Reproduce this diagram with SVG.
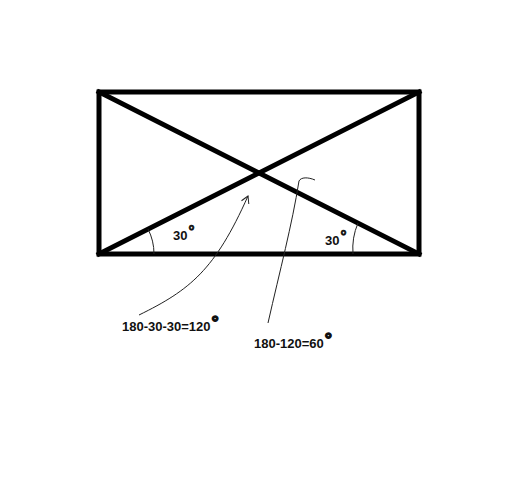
<svg xmlns="http://www.w3.org/2000/svg" width="506" height="480" viewBox="0 0 506 480">
<style>
.thick{stroke:#000;stroke-width:5;fill:none;stroke-linecap:square}
.thin{stroke:#222;stroke-width:1;fill:none}
.lbl{font-family:"Liberation Sans",Arial,sans-serif;font-weight:bold;font-size:13px;fill:#111}
.deg{font-size:15px;stroke:#111;stroke-width:0.8}
.degb{font-size:18px;stroke:#111;stroke-width:1.3}
</style>
<defs>
<marker id="ah" markerWidth="12" markerHeight="12" refX="8" refY="5" orient="auto" markerUnits="userSpaceOnUse">
<polyline points="1,1 8,5 1,9" fill="none" stroke="#222" stroke-width="1"/>
</marker>
</defs>
<rect width="506" height="480" fill="#fff"/>
<g id="rectangle">
<rect class="thick" x="99" y="92" width="320" height="162"/>
</g>
<g id="diagonals">
<line class="thick" x1="99" y1="92" x2="419" y2="254"/>
<line class="thick" x1="99" y1="254" x2="419" y2="92"/>
</g>
<g id="angle-left">
<path class="thin" d="M148,229 A55,55 0 0 1 154,254"/>
<text class="lbl" x="173" y="240">30<tspan class="deg" dx="1" dy="-4">°</tspan></text>
</g>
<g id="angle-right">
<path class="thin" d="M358,223 A65,65 0 0 0 353,254"/>
<text class="lbl" x="325" y="245">30<tspan class="deg" dx="1" dy="-4">°</tspan></text>
</g>
<g id="connectors">
<path class="thin" d="M139,315 C190,290 215,270 248,196" marker-end="url(#ah)"/>
<path class="thin" d="M268,323 C280,270 292,225 299,181 C301,177 308,177 315,180"/>
</g>
<g id="label-120">
<text class="lbl" x="122" y="331">180-30-30=120<tspan class="degb" dx="1" dy="-3">°</tspan></text>
</g>
<g id="label-60">
<text class="lbl" x="254" y="348">180-120=60<tspan class="degb" dx="1" dy="-3">°</tspan></text>
</g>
</svg>
